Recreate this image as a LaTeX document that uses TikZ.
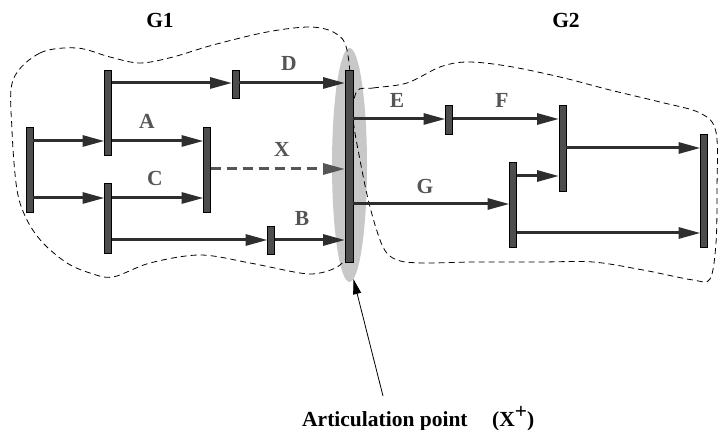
\documentclass[tikz,border=0pt]{standalone}
\usepackage{fontspec}
\setmainfont{Liberation Serif}
\usetikzlibrary{arrows.meta,shapes.geometric}
\definecolor{barfill}{HTML}{4D4D4D}
\definecolor{arrcol}{HTML}{2E2E2E}
\definecolor{lblcol}{HTML}{555555}
\definecolor{ellcol}{HTML}{C8C8C8}
\tikzset{
  bar/.style={draw=black, line width=0.8pt, fill=barfill, minimum width=7pt, inner sep=0pt, outer sep=0pt},
  arr/.style={draw=arrcol, line width=3pt, -{Triangle[length=22pt,width=11pt]}},
  xarr/.style={draw=lblcol, line width=3pt, dash pattern=on 10pt off 6pt, -{Triangle[length=22pt,width=11pt]}},
  lbl/.style={text=lblcol, font=\fontsize{21.5}{25}\selectfont\bfseries, inner sep=0pt},
  glbl/.style={text=black, font=\fontsize{21.5}{25}\selectfont\bfseries, inner sep=0pt},
  bound/.style={draw=black, line width=0.8pt, dash pattern=on 6pt off 4pt},
  thinarr/.style={draw=black, line width=0.8pt, -{Triangle[length=15pt,width=8pt]}}
}
\begin{document}
\begin{tikzpicture}[x=1pt,y=-1pt]
\useasboundingbox (0,0) rectangle (718,430);
% articulation ellipse
\node[ellipse, fill=ellcol, draw=none, minimum width=35pt, minimum height=234pt, inner sep=0pt] (ell) at (349.5,165) {};
% boundaries
\draw[bound] plot[smooth cycle, tension=0.55] coordinates {
 (13,80) (40,53) (77,48) (110,57) (140,63) (173,57) (213,45) (267,32) (310,27) (335,33)
 (347,50) (352,107) (353,190) (350,247) (340,265) (320,273) (300,273) (250,263) (200,255)
 (150,263) (113,277) (90,273) (67,263) (43,243) (27,220) (17,190) (12,130)};
\draw[bound] plot[smooth cycle, tension=0.55] coordinates {
 (357,91) (373,88) (407,83) (440,67) (467,62) (507,66) (560,77) (610,90) (660,102) (700,113)
 (716,132) (717,190) (716,243) (710,279) (693,280) (643,270) (593,262) (540,262) (473,262)
 (423,263) (397,260) (383,247) (370,207) (360,160) (353,117)};
% bars
\node[bar, minimum height=85pt] (b0) at (29.5,169.5) {};
\node[bar, minimum height=85pt] (b1) at (108,112.5) {};
\node[bar, minimum height=70pt] (b2) at (108,218) {};
\node[bar, minimum height=85pt] (bm) at (207,169.5) {};
\node[bar, minimum height=28pt] (bD) at (235.5,84) {};
\node[bar, minimum height=28pt] (bB) at (271,240) {};
\node[bar, minimum height=192pt, minimum width=8pt] (art) at (349,166) {};
\node[bar, minimum height=29pt] (bE) at (449,119.5) {};
\node[bar, minimum height=86pt] (bF) at (562.5,148) {};
\node[bar, minimum height=85pt] (bG) at (513,204.5) {};
\node[bar, minimum height=113pt] (bR) at (704,190.5) {};
% arrows
\draw[arr] (b0.east |- 0,141) -- (b1.west |- 0,141);
\draw[arr] (b0.east |- 0,198) -- (b2.west |- 0,198);
\draw[arr] (b1.east |- 0,141) -- (bm.west |- 0,141);
\draw[arr] (b2.east |- 0,198) -- (bm.west |- 0,198);
\draw[arr] (b1.east |- 0,83) -- (bD.west |- 0,83);
\draw[arr] (bD.east |- 0,83) -- (art.west |- 0,83);
\draw[xarr] (bm.east |- 0,169) -- (art.west |- 0,169);
\draw[arr] (b2.east |- 0,240) -- (bB.west |- 0,240);
\draw[arr] (bB.east |- 0,240) -- (art.west |- 0,240);
\draw[arr] (art.east |- 0,119) -- (bE.west |- 0,119);
\draw[arr] (bE.east |- 0,119) -- (bF.west |- 0,119);
\draw[arr] (bF.east |- 0,148) -- (bR.west |- 0,148);
\draw[arr] (bG.east |- 0,176) -- (bF.west |- 0,176);
\draw[arr] (art.east |- 0,204) -- (bG.west |- 0,204);
\draw[arr] (bG.east |- 0,233) -- (bR.west |- 0,233);
% labels
\node[lbl] (lD) at (289,63) {D};
\node[lbl] (lA) at (147,121) {A};
\node[lbl] (lX) at (282,149) {X};
\node[lbl] (lC) at (155,178) {C};
\node[lbl] (lB) at (302,218) {B};
\node[lbl] (lE) at (397,100) {E};
\node[lbl] (lF) at (502,100) {F};
\node[lbl] (lG) at (425,186) {G};
\node[glbl] (g1) at (160,20) {G1};
\node[glbl] (g2) at (566,20) {G2};
% articulation text
\node[glbl, anchor=base west] (art1) at (302,426) {Articulation point};
\node[glbl, anchor=base west] (art2) at (492,426) {(X\raisebox{0.75ex}{+})};
\coordinate (tail) at (383,396);
\draw[thinarr] (tail) -- (ell.-88);
\end{tikzpicture}
\end{document}
